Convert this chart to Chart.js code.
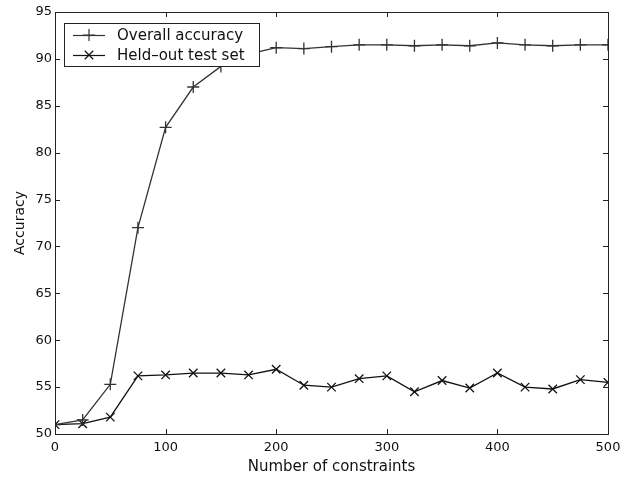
<!DOCTYPE html>
<html>
<head>
<meta charset="utf-8">
<script src="https://cdn.jsdelivr.net/npm/chart.js@4"></script>
<style>
  html, body { margin: 0; padding: 0; background: #fff; }
  #wrap { width: 630px; height: 479px; }
</style>
</head>
<body>
<div id="wrap"><canvas id="myChart"></canvas></div>
<script>
// data
const constraints = [0, 25, 50, 75, 100, 125, 150, 175, 200, 225, 250, 275, 300, 325, 350, 375, 400, 425, 450, 475, 500];
const overallAccuracy = [51.0, 51.5, 55.3, 72.0, 82.7, 87.0, 89.2, 90.5, 91.2, 91.1, 91.3, 91.5, 91.5, 91.4, 91.5, 91.4, 91.7, 91.5, 91.4, 91.5, 91.5];
const heldOutAccuracy = [51.0, 51.1, 51.8, 56.2, 56.3, 56.5, 56.5, 56.3, 56.9, 55.2, 55.0, 55.9, 56.2, 54.5, 55.7, 54.9, 56.5, 55.0, 54.8, 55.8, 55.5];
const seriesNames = ['Overall accuracy', 'Held\u2013out test set'];
const yTicks = [50, 55, 60, 65, 70, 75, 80, 85, 90, 95];
const xTicks = [0, 100, 200, 300, 400, 500];

const FONT = 'DejaVu Sans';
const ctx = document.getElementById('myChart');

const toPoints = (vals) => constraints.map((c, i) => ({ x: c, y: vals[i] }));

// box frame with inward ticks, matlab style
const boxFrame = {
  id: 'boxFrame',
  afterDatasetsDraw(chart) {
    const { ctx, chartArea: a, scales } = chart;
    ctx.save();
    ctx.strokeStyle = '#222';
    ctx.lineWidth = 1;
    ctx.strokeRect(a.left + 0.5, a.top + 0.5, a.right - a.left, a.bottom - a.top);
    const len = 5;
    ctx.beginPath();
    xTicks.forEach(v => {
      const px = Math.round(scales.x.getPixelForValue(v)) + 0.5;
      ctx.moveTo(px, a.bottom); ctx.lineTo(px, a.bottom - len);
      ctx.moveTo(px, a.top); ctx.lineTo(px, a.top + len);
    });
    yTicks.forEach(v => {
      const py = Math.round(scales.y.getPixelForValue(v)) + 0.5;
      ctx.moveTo(a.left, py); ctx.lineTo(a.left + len, py);
      ctx.moveTo(a.right, py); ctx.lineTo(a.right - len, py);
    });
    ctx.stroke();
    ctx.restore();
  }
};

// legend inside the plot, top left
const boxLegend = {
  id: 'boxLegend',
  afterDraw(chart) {
    const { ctx, chartArea: a } = chart;
    const x0 = a.left + 9, y0 = a.top + 11, w = 195, h = 43;
    ctx.save();
    ctx.fillStyle = '#fff';
    ctx.fillRect(x0, y0, w, h);
    ctx.strokeStyle = '#222';
    ctx.lineWidth = 1;
    ctx.strokeRect(x0 + 0.5, y0 + 0.5, w, h);
    ctx.font = '15px ' + FONT;
    ctx.fillStyle = '#111';
    ctx.textBaseline = 'middle';
    chart.data.datasets.forEach((ds, i) => {
      const cy = y0 + 12 + i * 20;
      ctx.strokeStyle = ds.borderColor;
      ctx.lineWidth = 1.2;
      ctx.beginPath();
      ctx.moveTo(x0 + 9, cy + 0.5); ctx.lineTo(x0 + 41, cy + 0.5);
      ctx.stroke();
      ctx.strokeStyle = ds.pointBorderColor;
      Chart.helpers.drawPoint(ctx, { pointStyle: ds.pointStyle, radius: ds.pointRadius, borderWidth: 1.2 }, x0 + 25, cy);
      ctx.fillText(ds.label, x0 + 53, cy + 1);
    });
    ctx.restore();
  }
};

new Chart(ctx, {
  type: 'line',
  data: {
    datasets: [{
      label: seriesNames[0],
      data: toPoints(overallAccuracy),
      borderColor: '#333',
      borderWidth: 1.3,
      pointStyle: 'cross',
      pointRadius: 6,
      pointBorderColor: '#333',
      pointBorderWidth: 1.3,
      tension: 0
    }, {
      label: seriesNames[1],
      data: toPoints(heldOutAccuracy),
      borderColor: '#111',
      borderWidth: 1.3,
      pointStyle: 'crossRot',
      pointRadius: 6,
      pointBorderColor: '#111',
      pointBorderWidth: 1.3,
      tension: 0
    }]
  },
  options: {
    responsive: true,
    maintainAspectRatio: false,
    animation: false,
    layout: { padding: { top: 12, right: 22, bottom: 3, left: 4 } },
    plugins: {
      legend: { display: false },
      tooltip: { enabled: false }
    },
    scales: {
      x: {
        type: 'linear',
        min: 0, max: 500,
        afterBuildTicks(s) { s.ticks = xTicks.map(v => ({ value: v })); },
        afterFit(s) { s.height = 42; },
        grid: { display: false, drawTicks: false },
        border: { display: false },
        ticks: { font: { size: 13, family: FONT }, color: '#111', padding: 6, maxRotation: 0 },
        title: { display: true, text: 'Number of constraints', font: { size: 15, family: FONT }, color: '#111', padding: { top: 0, bottom: 0 } }
      },
      y: {
        min: 50, max: 95,
        afterBuildTicks(s) { s.ticks = yTicks.map(v => ({ value: v })); },
        afterFit(s) { s.width = 51; },
        grid: { display: false, drawTicks: false },
        border: { display: false },
        ticks: { font: { size: 13, family: FONT }, color: '#111', padding: 3 },
        title: { display: true, text: 'Accuracy', font: { size: 14, family: FONT }, color: '#111', padding: { top: 8, bottom: 0 } }
      }
    }
  },
  plugins: [boxFrame, boxLegend]
});
</script>
</body>
</html>
